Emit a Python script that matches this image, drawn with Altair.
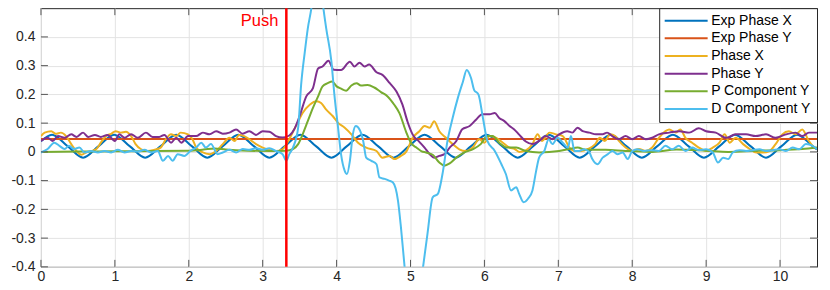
import altair as alt
import pandas as pd

series_names = ["Exp Phase X", "Exp Phase Y", "Phase X", "Phase Y", "P Component Y", "D Component Y"]
series_colors = ["#0072BD", "#D95319", "#EDB120", "#7E2F8E", "#77AC30", "#4DBEEE"]

x_ticks = [0, 1, 2, 3, 4, 5, 6, 7, 8, 9, 10]
y_ticks = [-0.4, -0.3, -0.2, -0.1, 0, 0.1, 0.2, 0.3, 0.4]
push_time = [3.32]
push_label = ["Push"]

exp_x_t = [0, 0.15, 0.36, 0.57, 0.78, 0.99, 1.20, 1.41, 1.62, 1.83, 2.04, 2.25, 2.46, 2.67, 2.88,
           3.09, 3.30, 3.51, 3.72, 3.93, 4.14, 4.35, 4.56, 4.77, 4.98, 5.19, 5.40, 5.61, 5.82, 6.03,
           6.24, 6.45, 6.66, 6.87, 7.08, 7.29, 7.50, 7.71, 7.92, 8.13, 8.34, 8.55, 8.76, 8.97, 9.18,
           9.39, 9.60, 9.81, 10.02, 10.23, 10.44, 10.5]
exp_x_v = [0.037, 0.06, 0.02, -0.02, 0.02, 0.06, 0.02, -0.02, 0.02, 0.06, 0.02, -0.02, 0.02, 0.06, 0.02,
           -0.02, 0.02, 0.06, 0.02, -0.02, 0.02, 0.06, 0.02, -0.02, 0.02, 0.06, 0.02, -0.02, 0.02, 0.06,
           0.02, -0.02, 0.02, 0.06, 0.02, -0.02, 0.02, 0.06, 0.02, -0.02, 0.02, 0.06, 0.02, -0.02, 0.02,
           0.06, 0.02, -0.02, 0.02, 0.06, 0.02, 0.008]

exp_y_t = [0, 10.5]
exp_y_v = [0.045, 0.045]

phase_x_t = [0.0, 0.05, 0.14, 0.2, 0.27, 0.34, 0.41, 0.48, 0.55, 0.61, 0.68, 0.75, 0.81, 0.88, 0.95,
             1.01, 1.08, 1.15, 1.22, 1.28, 1.35, 1.44, 1.53, 1.62, 1.69, 1.76, 1.83, 1.89, 1.99, 2.05,
             2.1, 2.19, 2.28, 2.37, 2.46, 2.55, 2.62, 2.68, 2.75, 2.82, 2.91, 3.0, 3.09, 3.18, 3.27,
             3.34, 3.41, 3.47, 3.54, 3.64, 3.73, 3.79, 3.86, 3.95, 4.02, 4.11, 4.2, 4.29, 4.4, 4.54,
             4.62, 4.72, 4.78, 4.87, 4.94, 5.03, 5.12, 5.19, 5.26, 5.32, 5.39, 5.48, 5.57, 5.66, 5.75,
             5.84, 5.93, 6.0, 6.07, 6.16, 6.25, 6.34, 6.41, 6.47, 6.56, 6.65, 6.72, 6.78, 6.88, 6.97,
             7.06, 7.15, 7.22, 7.31, 7.4, 7.5, 7.56, 7.63, 7.7, 7.77, 7.82, 7.91, 8.0, 8.09, 8.18,
             8.27, 8.36, 8.45, 8.5, 8.59, 8.65, 8.72, 8.81, 8.9, 9.0, 9.09, 9.18, 9.25, 9.32, 9.4,
             9.5, 9.59, 9.68, 9.77, 9.86, 9.94, 10.03, 10.12, 10.21, 10.3, 10.39, 10.47, 10.5]
phase_x_v = [0.055, 0.067, 0.072, 0.063, 0.067, 0.055, 0.027, 0.003, -0.01, -0.002, 0.003, 0.01, 0.032, 0.055, 0.063,
             0.072, 0.067, 0.07, 0.055, 0.027, 0.01, 0.003, 0.007, 0.015, 0.044, 0.061, 0.055, 0.067, 0.061, 0.044,
             0.015, -0.002, -0.008, 0.003, 0.027, 0.049, 0.038, 0.059, 0.055, 0.044, 0.027, 0.015, 0.007, 0.003, 0.01,
             0.035, 0.07, 0.1, 0.135, 0.165, 0.176, 0.17, 0.147, 0.124, 0.101, 0.084, 0.061, 0.032, 0.015, 0.003,
             -0.02, -0.014, -0.025, -0.014, 0.0, 0.049, 0.072, 0.09, 0.084, 0.107, 0.072, 0.049, 0.027, 0.009, 0.003,
             0.015, 0.044, 0.032, 0.055, 0.049, 0.032, 0.015, 0.01, 0.0, 0.005, 0.027, 0.061, 0.038, 0.067, 0.061,
             0.055, 0.015, 0.003, 0.003, 0.01, 0.027, 0.049, 0.038, 0.061, 0.055, 0.038, 0.015, 0.003, 0.01, 0.003,
             0.015, 0.049, 0.072, 0.078, 0.067, 0.078, 0.049, 0.032, 0.015, 0.003, 0.015, 0.032, 0.061, 0.032, 0.049,
             0.027, 0.01, -0.002, -0.002, 0.003, 0.027, 0.061, 0.072, 0.061, 0.078, 0.038, 0.015, 0.012]

phase_y_t = [0.0, 0.09, 0.16, 0.23, 0.32, 0.41, 0.48, 0.57, 0.64, 0.73, 0.81, 0.9, 1.0, 1.06, 1.13,
             1.22, 1.31, 1.42, 1.51, 1.6, 1.67, 1.76, 1.83, 1.9, 1.99, 2.1, 2.19, 2.28, 2.37, 2.46,
             2.55, 2.64, 2.73, 2.82, 2.91, 3.0, 3.09, 3.18, 3.27, 3.36, 3.43, 3.5, 3.59, 3.68, 3.75,
             3.81, 3.89, 3.96, 4.06, 4.18, 4.24, 4.31, 4.38, 4.44, 4.54, 4.62, 4.72, 4.81, 4.89, 4.96,
             5.03, 5.12, 5.19, 5.26, 5.32, 5.39, 5.46, 5.53, 5.62, 5.7, 5.8, 5.89, 5.97, 6.07, 6.14,
             6.2, 6.27, 6.34, 6.4, 6.47, 6.56, 6.65, 6.74, 6.83, 6.92, 7.01, 7.12, 7.19, 7.26, 7.33,
             7.42, 7.51, 7.6, 7.66, 7.73, 7.82, 7.91, 8.0, 8.09, 8.18, 8.27, 8.36, 8.5, 8.64, 8.77,
             8.9, 9.0, 9.13, 9.27, 9.4, 9.54, 9.67, 9.81, 9.94, 10.08, 10.21, 10.3, 10.39, 10.5]
phase_y_v = [0.038, 0.049, 0.038, 0.055, 0.049, 0.061, 0.052, 0.067, 0.052, 0.059, 0.052, 0.059, 0.038, 0.061, 0.049,
             0.061, 0.049, 0.067, 0.052, 0.052, 0.059, 0.032, 0.049, 0.032, 0.055, 0.055, 0.067, 0.061, 0.072, 0.063,
             0.067, 0.078, 0.063, 0.072, 0.059, 0.072, 0.07, 0.055, 0.05, 0.057, 0.08, 0.125, 0.193, 0.222, 0.29,
             0.297, 0.317, 0.286, 0.285, 0.314, 0.297, 0.31, 0.297, 0.304, 0.277, 0.268, 0.239, 0.21, 0.165, 0.105,
             0.06, 0.035, 0.015, -0.008, -0.02, -0.014, -0.008, 0.015, 0.038, 0.079, 0.09, 0.113, 0.131, 0.131, 0.135,
             0.118, 0.107, 0.09, 0.079, 0.06, 0.036, 0.027, 0.038, 0.055, 0.044, 0.061, 0.072, 0.067, 0.084, 0.072,
             0.067, 0.061, 0.061, 0.067, 0.055, 0.044, 0.055, 0.044, 0.055, 0.044, 0.049, 0.061, 0.067, 0.072, 0.067,
             0.082, 0.072, 0.067, 0.049, 0.061, 0.061, 0.055, 0.061, 0.049, 0.061, 0.067, 0.055, 0.067, 0.067]

p_comp_t = [0.0, 0.5, 1.0, 1.5, 2.0, 2.2, 2.35, 2.5, 2.8, 3.1, 3.32, 3.41, 3.48, 3.54, 3.61,
            3.68, 3.75, 3.81, 3.88, 3.94, 4.0, 4.06, 4.13, 4.2, 4.27, 4.33, 4.42, 4.51, 4.6, 4.69,
            4.78, 4.85, 4.94, 5.01, 5.08, 5.15, 5.21, 5.3, 5.39, 5.46, 5.53, 5.62, 5.73, 5.84, 5.95,
            6.04, 6.11, 6.2, 6.31, 6.43, 6.56, 6.74, 7.01, 7.15, 7.26, 7.37, 7.64, 7.91, 8.27, 8.6,
            9.0, 9.3, 9.7, 10.0, 10.3, 10.5]
p_comp_v = [0.0, 0.001, 0.002, 0.003, 0.004, 0.008, 0.012, 0.008, 0.004, 0.003, 0.004, 0.01, 0.027, 0.061, 0.107,
            0.153, 0.193, 0.228, 0.239, 0.245, 0.228, 0.22, 0.213, 0.231, 0.239, 0.231, 0.233, 0.224, 0.208, 0.193,
            0.164, 0.135, 0.07, 0.03, 0.015, 0.002, -0.002, -0.01, -0.037, -0.048, -0.04, -0.02, -0.002, 0.009, 0.027,
            0.055, 0.055, 0.032, 0.015, 0.015, 0.003, -0.002, 0.003, 0.01, 0.015, 0.007, 0.007, 0.003, 0.0, 0.008,
            0.004, 0.0, 0.004, 0.006, 0.01, 0.015]

d_comp_t = [0.0, 0.09, 0.18, 0.25, 0.32, 0.38, 0.45, 0.52, 0.59, 0.68, 0.77, 0.86, 0.95, 1.04, 1.13,
            1.22, 1.31, 1.4, 1.49, 1.58, 1.65, 1.72, 1.78, 1.85, 1.94, 2.03, 2.1, 2.17, 2.23, 2.3,
            2.39, 2.46, 2.55, 2.64, 2.73, 2.82, 2.91, 3.0, 3.09, 3.18, 3.27, 3.32, 3.36, 3.41, 3.48,
            3.52, 3.57, 3.61, 3.66, 3.74, 3.82, 3.86, 3.93, 3.97, 4.02, 4.06, 4.11, 4.14, 4.18, 4.22,
            4.26, 4.31, 4.36, 4.4, 4.47, 4.54, 4.58, 4.65, 4.71, 4.76, 4.83, 4.87, 4.92, 5.0, 5.1,
            5.17, 5.23, 5.3, 5.37, 5.44, 5.5, 5.57, 5.64, 5.71, 5.76, 5.82, 5.86, 5.92, 5.98, 6.04,
            6.14, 6.23, 6.29, 6.36, 6.43, 6.47, 6.53, 6.59, 6.65, 6.7, 6.74, 6.81, 6.87, 6.92, 6.99,
            7.06, 7.13, 7.17, 7.22, 7.28, 7.35, 7.42, 7.46, 7.53, 7.6, 7.67, 7.73, 7.8, 7.87, 7.94,
            8.0, 8.07, 8.16, 8.25, 8.36, 8.45, 8.54, 8.63, 8.72, 8.81, 8.9, 9.0, 9.09, 9.16, 9.23,
            9.3, 9.36, 9.45, 9.54, 9.63, 9.72, 9.81, 9.9, 9.99, 10.08, 10.17, 10.26, 10.35, 10.44, 10.5]
d_comp_v = [-0.002, 0.01, 0.032, 0.021, 0.01, 0.021, 0.01, 0.015, -0.002, 0.003, -0.002, 0.003, -0.002, 0.007, -0.002,
            0.003, 0.001, 0.007, -0.002, 0.003, -0.031, -0.014, -0.031, -0.008, -0.014, 0.005, 0.015, 0.032, 0.015, 0.027,
            -0.008, -0.002, 0.007, -0.002, 0.01, 0.007, 0.013, 0.007, 0.013, 0.003, -0.008, -0.031, -0.008, 0.015, 0.084,
            0.233, 0.348, 0.429, 0.503, 0.72, 0.503, 0.429, 0.314, 0.199, 0.084, -0.008, -0.066, -0.077, -0.031, 0.061,
            0.09, 0.078, 0.038, -0.02, -0.031, -0.043, -0.089, -0.094, -0.1, -0.106, -0.169, -0.261, -0.4, -0.6, -0.55,
            -0.4, -0.284, -0.158, -0.146, -0.066, 0.038, 0.118, 0.187, 0.245, 0.285, 0.256, 0.216, 0.199, 0.118, 0.038,
            0.003, -0.043, -0.077, -0.134, -0.123, -0.146, -0.175, -0.163, -0.134, -0.066, -0.02, 0.003, 0.044, 0.027, 0.049,
            0.032, 0.015, 0.055, 0.003, 0.003, 0.009, -0.002, -0.025, -0.043, -0.02, -0.008, 0.003, -0.008, -0.002, -0.025,
            0.003, 0.009, 0.003, 0.006, 0.003, 0.021, 0.009, 0.021, 0.003, 0.015, 0.006, 0.009, -0.002, -0.037, -0.02,
            -0.025, -0.002, 0.006, 0.003, 0.006, 0.009, 0.003, 0.006, 0.009, 0.003, 0.015, 0.009, 0.027, 0.021, 0.01]

series_data = [(exp_x_t, exp_x_v), (exp_y_t, exp_y_v), (phase_x_t, phase_x_v),
               (phase_y_t, phase_y_v), (p_comp_t, p_comp_v), (d_comp_t, d_comp_v)]

W, H = 777, 259
FONT = "Liberation Sans"

xscale = alt.Scale(domain=[0, 10.5], nice=False, zero=False)
yscale = alt.Scale(domain=[-0.4, 0.5], nice=False, zero=False)
cscale = alt.Scale(domain=series_names, range=series_colors)

legend = alt.Legend(
    title=None, orient="top-right", offset=0,
    symbolType="M-4.3,0L4.3,0", symbolSize=100, symbolStrokeWidth=2,
    symbolOffset=14.5, labelOffset=18, labelAlign="left",
    labelFont=FONT, labelFontSize=14, labelColor="#000000",
    strokeColor="#262626", fillColor="#ffffff", padding=5.5, rowPadding=3.7,
)

x_axis = alt.Axis(values=x_ticks, title=None, grid=True, labelPadding=3, format="d",
                  labelFlush=False)
y_axis = alt.Axis(values=y_ticks, title=None, grid=True, labelPadding=6,
                  labelExpr="'' + datum.value", labelFlush=False)

X = alt.X("t:Q", scale=xscale, axis=x_axis)
Y = alt.Y("v:Q", scale=yscale, axis=y_axis)

layers = []
for name, (ts, vs) in zip(series_names, series_data):
    d = pd.DataFrame({"t": ts, "v": vs, "series": name})
    layers.append(
        alt.Chart(d).mark_line(clip=True, strokeWidth=2, interpolate="monotone").encode(
            x=X, y=Y,
            color=alt.Color("series:N", scale=cscale, legend=legend),
        )
    )

push_df = pd.DataFrame({"t": push_time, "label": push_label})
push_rule = alt.Chart(push_df).mark_rule(color="#FF0000", strokeWidth=2.5).encode(x=X)
push_text = alt.Chart(push_df).mark_text(
    align="right", baseline="alphabetic", dx=-8, fontSize=16.5, font=FONT, color="#FF0000"
).encode(x=X, y=alt.value(18), text="label:N")

xt_df = pd.DataFrame({"t": x_ticks})
yt_df = pd.DataFrame({"v": y_ticks})
tick_style = dict(color="#555555", strokeWidth=1)
xt_bottom = alt.Chart(xt_df).mark_rule(**tick_style).encode(
    x=X, y=alt.value(H), y2=alt.value(H - 7))
xt_top = alt.Chart(xt_df).mark_rule(**tick_style).encode(
    x=X, y=alt.value(0), y2=alt.value(7))
yt_left = alt.Chart(yt_df).mark_rule(**tick_style).encode(
    y=Y, x=alt.value(0), x2=alt.value(7))
yt_right = alt.Chart(yt_df).mark_rule(**tick_style).encode(
    y=Y, x=alt.value(W - 7), x2=alt.value(W))

chart = alt.layer(
    *layers, push_rule, push_text, xt_bottom, xt_top, yt_left, yt_right
).properties(
    width=W, height=H,
    autosize=alt.AutoSizeParams(type="none"),
    padding={"left": 33, "top": 0, "right": 5, "bottom": 18},
).configure_view(
    stroke="#262626", strokeWidth=1
).configure_axis(
    domain=False, tickSize=0, gridColor="#e3e3e3", gridWidth=1,
    labelFont=FONT, labelFontSize=14, labelColor="#262626",
)

chart.save("out.html", embed_options={"renderer": "svg", "actions": False})
